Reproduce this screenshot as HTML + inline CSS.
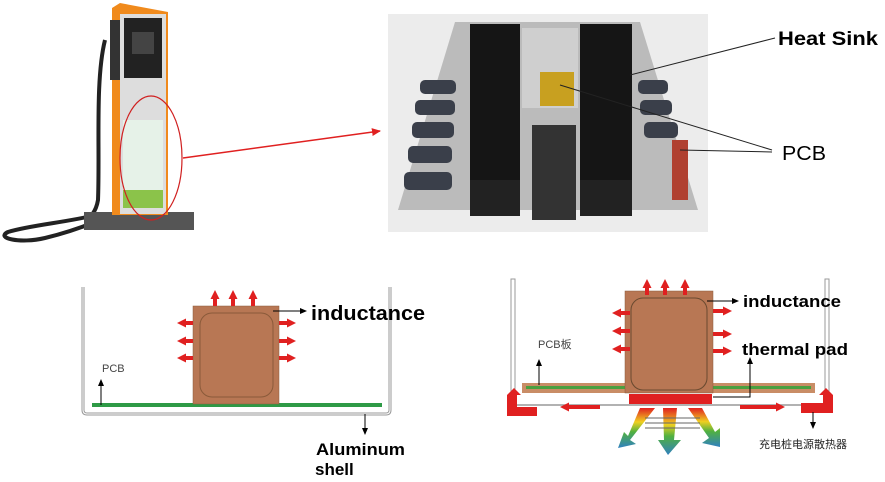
<!DOCTYPE html>
<html><head><meta charset="utf-8"><style>
html,body{margin:0;padding:0;background:#fff;width:885px;height:482px;overflow:hidden}
svg text{font-family:"Liberation Sans","Noto Sans CJK SC",sans-serif}
</style></head><body>
<svg width="885" height="482" viewBox="0 0 885 482" xmlns="http://www.w3.org/2000/svg">
<defs>
<marker id="ah" markerUnits="userSpaceOnUse" markerWidth="8" markerHeight="8" refX="6" refY="4" orient="auto"><path d="M0,1 L7,4 L0,7z" fill="#000"/></marker>
<marker id="rh" markerUnits="userSpaceOnUse" markerWidth="10" markerHeight="10" refX="1" refY="5" orient="auto"><path d="M0,0.5 L9,5 L0,9.5z" fill="#e02020"/></marker>
<marker id="rl" markerUnits="userSpaceOnUse" markerWidth="10" markerHeight="10" refX="8" refY="5" orient="auto"><path d="M0,1 L9,5 L0,9z" fill="#e02020"/></marker>
<linearGradient id="fan" x1="0" y1="0" x2="0" y2="1"><stop offset="0" stop-color="#e02020"/><stop offset="0.35" stop-color="#f0d020"/><stop offset="0.6" stop-color="#50b040"/><stop offset="1" stop-color="#3080c0"/></linearGradient>
</defs>

<!-- Charger kiosk -->
<path d="M95,215 C70,222 30,225 8,232 C-5,238 20,244 45,238 C70,232 85,226 95,222" fill="none" stroke="#222" stroke-width="4"/>
<path d="M105,40 C95,80 100,150 98,200 C96,212 90,218 85,220" fill="none" stroke="#222" stroke-width="4"/>
<rect x="84" y="212" width="110" height="18" fill="#555"/>
<path d="M112,8 L120,3 L168,12 L168,215 L112,215 Z" fill="#f08a1c"/>
<rect x="120" y="14" width="46" height="200" fill="#ddd"/>
<rect x="124" y="18" width="38" height="60" fill="#222"/>
<rect x="132" y="32" width="22" height="22" fill="#444"/>
<rect x="123" y="120" width="40" height="88" fill="#e6f2e8"/>
<rect x="123" y="190" width="40" height="18" fill="#8bc34a"/>
<rect x="110" y="20" width="10" height="60" fill="#333"/>
<ellipse cx="151" cy="158" rx="31" ry="62" fill="none" stroke="#d02020" stroke-width="1.2"/>
<line x1="183" y1="158" x2="380" y2="131" stroke="#e02020" stroke-width="1.5" marker-end="url(#rl)"/>

<!-- Photo of power module -->
<rect x="388" y="14" width="320" height="218" fill="#ececec"/>
<polygon points="398,210 455,22 640,22 698,210" fill="#bbb"/>
<rect x="470" y="24" width="50" height="186" fill="#151515"/>
<rect x="580" y="24" width="52" height="186" fill="#151515"/>
<rect x="522" y="28" width="56" height="80" fill="#cfcfcf"/>
<rect x="540" y="72" width="34" height="34" fill="#c8a020"/>
<rect x="532" y="125" width="44" height="95" fill="#333"/>
<g fill="#3a3f4a">
<rect x="420" y="80" width="36" height="14" rx="5"/><rect x="415" y="100" width="40" height="15" rx="5"/><rect x="412" y="122" width="42" height="16" rx="5"/><rect x="408" y="146" width="44" height="17" rx="5"/><rect x="404" y="172" width="48" height="18" rx="5"/>
<rect x="638" y="80" width="30" height="14" rx="5"/><rect x="640" y="100" width="32" height="15" rx="5"/><rect x="644" y="122" width="34" height="16" rx="5"/>
</g>
<g fill="#b04030"><rect x="672" y="140" width="16" height="60"/></g>
<rect x="470" y="180" width="50" height="36" fill="#222"/><rect x="580" y="180" width="52" height="36" fill="#222"/>
<line x1="630" y1="75" x2="775" y2="38" stroke="#222" stroke-width="1"/>
<line x1="560" y1="85" x2="772" y2="150" stroke="#222" stroke-width="1"/>
<line x1="680" y1="150" x2="772" y2="152" stroke="#222" stroke-width="1"/>
<text x="778" y="45" font-size="19" font-weight="bold" textLength="100" lengthAdjust="spacingAndGlyphs">Heat Sink</text>
<text x="782" y="160" font-size="20" textLength="44" lengthAdjust="spacingAndGlyphs">PCB</text>

<!-- Bottom-left diagram -->
<path d="M83,287 V410 Q83,414 87,414 H386 Q390,414 390,410 V287" fill="none" stroke="#999" stroke-width="3"/>
<path d="M83,287 V410 Q83,414 87,414 H386 Q390,414 390,410 V287" fill="none" stroke="#fff" stroke-width="1"/>
<rect x="92" y="403" width="290" height="4" fill="#2e9a46"/>
<rect x="193" y="306" width="86" height="98" fill="#b87754" stroke="#8a5a3a" stroke-width="0.5"/>
<rect x="200" y="313" width="73" height="84" rx="12" fill="none" stroke="#8a5a3a" stroke-width="1"/>
<g stroke="#e02020" stroke-width="4" fill="none">
<line x1="215" y1="306" x2="215" y2="298" marker-end="url(#rh)"/><line x1="233" y1="306" x2="233" y2="298" marker-end="url(#rh)"/><line x1="253" y1="306" x2="253" y2="298" marker-end="url(#rh)"/>
<line x1="193" y1="323" x2="185" y2="323" marker-end="url(#rh)"/><line x1="193" y1="341" x2="185" y2="341" marker-end="url(#rh)"/><line x1="193" y1="358" x2="185" y2="358" marker-end="url(#rh)"/>
<line x1="279" y1="323" x2="288" y2="323" marker-end="url(#rh)"/><line x1="279" y1="341" x2="288" y2="341" marker-end="url(#rh)"/><line x1="279" y1="358" x2="288" y2="358" marker-end="url(#rh)"/>
</g>
<line x1="273" y1="311" x2="306" y2="311" stroke="#000" stroke-width="1" marker-end="url(#ah)"/>
<text x="311" y="320" font-size="20" font-weight="bold" textLength="114" lengthAdjust="spacingAndGlyphs">inductance</text>
<text x="102" y="372" font-size="11" fill="#444">PCB</text>
<line x1="101" y1="405" x2="101" y2="380" stroke="#000" stroke-width="1" marker-end="url(#ah)"/>
<line x1="365" y1="414" x2="365" y2="434" stroke="#000" stroke-width="1" marker-end="url(#ah)"/>
<text x="316" y="455" font-size="17" font-weight="bold" textLength="89" lengthAdjust="spacingAndGlyphs">Aluminum</text>
<text x="315" y="475" font-size="17" font-weight="bold">shell</text>

<!-- Bottom-right diagram -->
<rect x="511" y="279" width="4" height="128" fill="#fff" stroke="#999" stroke-width="1"/>
<rect x="825" y="279" width="4" height="128" fill="#fff" stroke="#999" stroke-width="1"/>
<line x1="513" y1="405" x2="827" y2="405" stroke="#999" stroke-width="1.5"/>
<rect x="522" y="383" width="293" height="10" fill="#c98d66"/>
<rect x="526" y="386" width="285" height="3" fill="#4aa040"/>
<g fill="url(#fan)">
<path d="M640,408 L655,408 L630,440 L636,444 L618,448 L624,432 L628,436 Z"/>
<path d="M663,408 L677,408 L674,440 L681,440 L668,455 L658,440 L664,440 Z"/>
<path d="M688,408 L702,408 L715,432 L720,428 L720,447 L702,443 L709,438 Z"/>
</g>
<g stroke="#666" stroke-width="1"><line x1="645" y1="418" x2="700" y2="418"/><line x1="645" y1="423" x2="700" y2="423"/><line x1="645" y1="428" x2="700" y2="428"/></g>
<rect x="625" y="291" width="88" height="102" fill="#b87754" stroke="#8a5a3a" stroke-width="0.5"/>
<rect x="631" y="298" width="76" height="92" rx="12" fill="none" stroke="#6a4a30" stroke-width="1"/>
<rect x="629" y="394" width="83" height="10" fill="#e02020"/>
<g stroke="#e02020" stroke-width="4" fill="none">
<line x1="647" y1="295" x2="647" y2="287" marker-end="url(#rh)"/><line x1="665" y1="295" x2="665" y2="287" marker-end="url(#rh)"/><line x1="685" y1="295" x2="685" y2="287" marker-end="url(#rh)"/>
<line x1="630" y1="313" x2="620" y2="313" marker-end="url(#rh)"/><line x1="630" y1="331" x2="620" y2="331" marker-end="url(#rh)"/><line x1="630" y1="349" x2="620" y2="349" marker-end="url(#rh)"/>
<line x1="713" y1="311" x2="724" y2="311" marker-end="url(#rh)"/><line x1="713" y1="334" x2="724" y2="334" marker-end="url(#rh)"/><line x1="713" y1="351" x2="724" y2="351" marker-end="url(#rh)"/>
<line x1="600" y1="407" x2="568" y2="407" marker-end="url(#rh)"/><line x1="740" y1="407" x2="777" y2="407" marker-end="url(#rh)"/>
</g>
<path d="M507,395 L514,388 L521,395 L517,395 L517,407 L537,407 L537,416 L507,416 Z" fill="#e02020"/>
<path d="M833,395 L826,388 L819,395 L823,395 L823,403 L801,403 L801,413 L833,413 Z" fill="#e02020"/>
<line x1="707" y1="301" x2="738" y2="301" stroke="#000" stroke-width="1" marker-end="url(#ah)"/>
<text x="743" y="307" font-size="17" font-weight="bold" textLength="98" lengthAdjust="spacingAndGlyphs">inductance</text>
<text x="742" y="355" font-size="17" font-weight="bold" textLength="106" lengthAdjust="spacingAndGlyphs">thermal pad</text>
<polyline points="713,397 750,397 750,358" fill="none" stroke="#000" stroke-width="1" marker-end="url(#ah)"/>
<text x="538" y="348" font-size="11" fill="#444">PCB板</text>
<line x1="539" y1="385" x2="539" y2="360" stroke="#000" stroke-width="1" marker-end="url(#ah)"/>
<line x1="813" y1="412" x2="813" y2="428" stroke="#000" stroke-width="1" marker-end="url(#ah)"/>
<text x="759" y="448" font-size="11" fill="#222">充电桩电源散热器</text>
</svg>
</body></html>
